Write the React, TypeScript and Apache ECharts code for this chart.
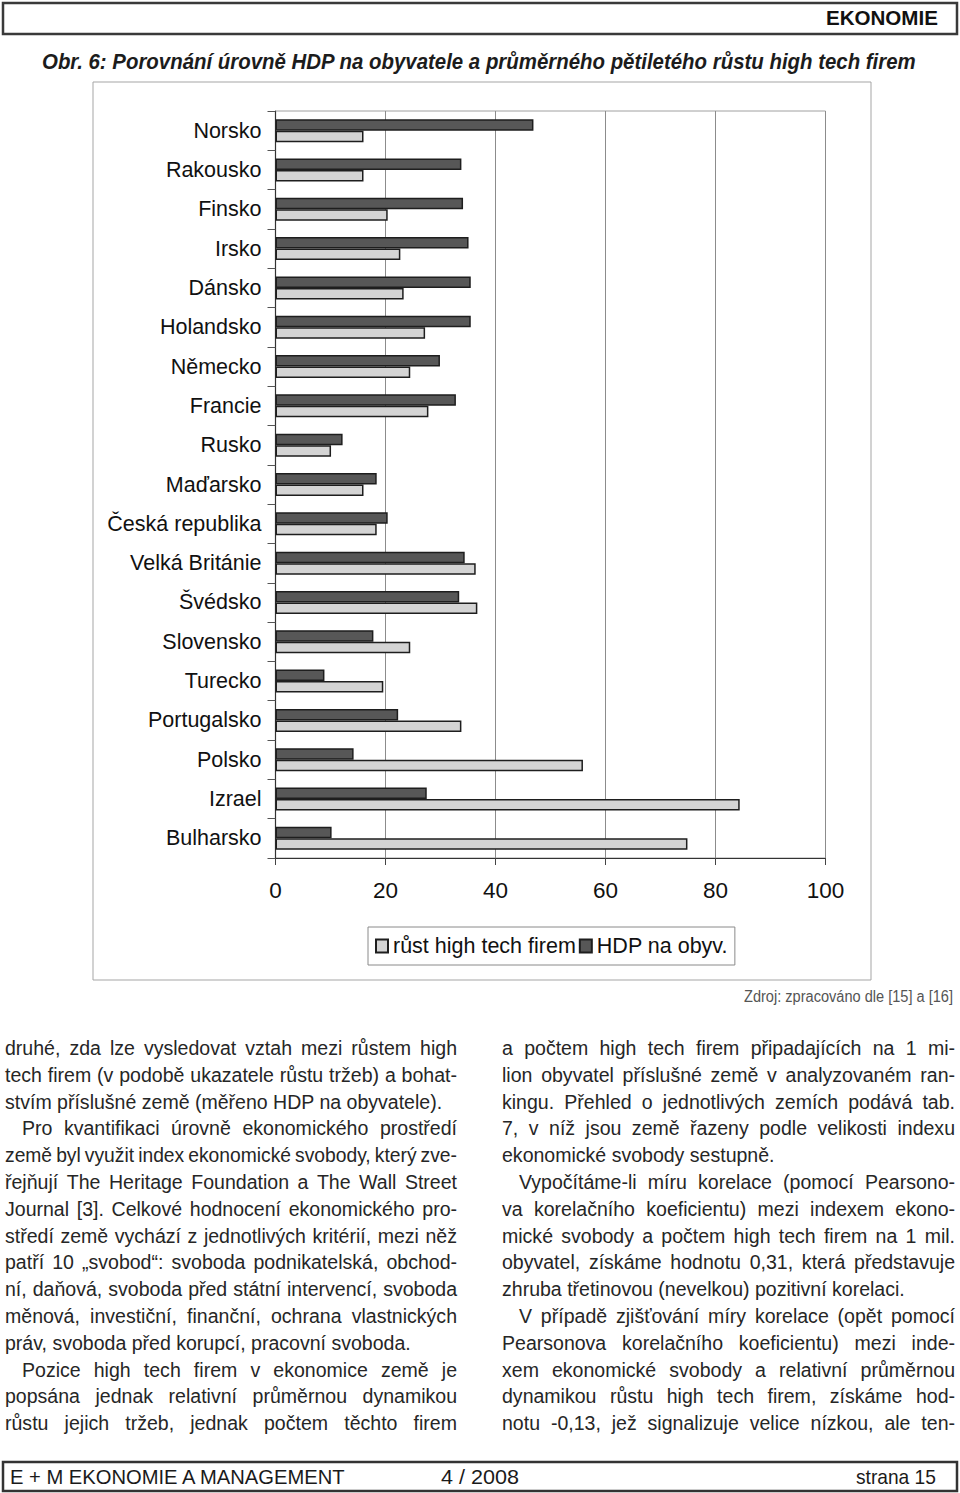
import React, { useEffect, useRef } from 'react';
import * as echarts from 'echarts';

const countries = [
  'Norsko', 'Rakousko', 'Finsko', 'Irsko', 'Dánsko', 'Holandsko', 'Německo', 'Francie', 'Rusko',
  'Maďarsko', 'Česká republika', 'Velká Británie', 'Švédsko', 'Slovensko', 'Turecko', 'Portugalsko',
  'Polsko', 'Izrael', 'Bulharsko',
];
const hdpValues = [46.9, 33.8, 34.1, 35.1, 35.5, 35.5, 29.9, 32.8, 12.2, 18.4, 20.4, 34.4, 33.4, 17.8, 8.9, 22.3, 14.2, 27.5, 10.2];
const growthValues = [16.0, 16.0, 20.4, 22.7, 23.3, 27.2, 24.5, 27.8, 10.1, 16.0, 18.4, 36.4, 36.7, 24.5, 19.6, 33.8, 55.9, 84.4, 74.9];
const seriesNames = ['růst high tech firem', 'HDP na obyv.'];
const axisMin = 0;
const axisMax = 100;
const axisStep = 20;

const headerLabel = 'EKONOMIE';
const titleText = 'Obr. 6: Porovnání úrovně HDP na obyvatele a průměrného pětiletého růstu high tech firem';
const sourceText = 'Zdroj: zpracováno dle [15] a [16]';
const footerLeft = 'E + M EKONOMIE A MANAGEMENT';
const footerMid = '4 / 2008';
const footerRight = 'strana 15';

type Line = { t: string; indent?: boolean; last?: boolean };
const leftColumn: Line[] = [
  { t: 'druhé, zda lze vysledovat vztah mezi růstem high' },
  { t: 'tech firem (v podobě ukazatele růstu tržeb) a bohat-' },
  { t: 'stvím příslušné země (měřeno HDP na obyvatele).', last: true },
  { t: 'Pro kvantifikaci úrovně ekonomického prostředí', indent: true },
  { t: 'země byl využit index ekonomické svobody, který zve-' },
  { t: 'řejňují The Heritage Foundation a The Wall Street' },
  { t: 'Journal [3]. Celkové hodnocení ekonomického pro-' },
  { t: 'středí země vychází z jednotlivých kritérií, mezi něž' },
  { t: 'patří 10 „svobod“: svoboda podnikatelská, obchod-' },
  { t: 'ní, daňová, svoboda před státní intervencí, svoboda' },
  { t: 'měnová, investiční, finanční, ochrana vlastnických' },
  { t: 'práv, svoboda před korupcí, pracovní svoboda.', last: true },
  { t: 'Pozice high tech firem v ekonomice země je', indent: true },
  { t: 'popsána jednak relativní průměrnou dynamikou' },
  { t: 'růstu jejich tržeb, jednak počtem těchto firem' },
];
const rightColumn: Line[] = [
  { t: 'a počtem high tech firem připadajících na 1 mi-' },
  { t: 'lion obyvatel příslušné země v analyzovaném ran-' },
  { t: 'kingu. Přehled o jednotlivých zemích podává tab.' },
  { t: '7, v níž jsou země řazeny podle velikosti indexu' },
  { t: 'ekonomické svobody sestupně.', last: true },
  { t: 'Vypočítáme-li míru korelace (pomocí Pearsono-', indent: true },
  { t: 'va korelačního koeficientu) mezi indexem ekono-' },
  { t: 'mické svobody a počtem high tech firem na 1 mil.' },
  { t: 'obyvatel, získáme hodnotu 0,31, která představuje' },
  { t: 'zhruba třetinovou (nevelkou) pozitivní korelaci.', last: true },
  { t: 'V případě zjišťování míry korelace (opět pomocí', indent: true },
  { t: 'Pearsonova korelačního koeficientu) mezi inde-' },
  { t: 'xem ekonomické svobody a relativní průměrnou' },
  { t: 'dynamikou růstu high tech firem, získáme hod-' },
  { t: 'notu -0,13, jež signalizuje velice nízkou, ale ten-' },
];

const FONT = '"Liberation Sans", Arial, Helvetica, sans-serif';

function makeMeasurer() {
  const ctx = document.createElement('canvas').getContext('2d') as CanvasRenderingContext2D;
  return (text: string, size: number, weight = 'normal', style = 'normal') => {
    ctx.font = `${style} ${weight} ${size}px ${FONT}`;
    return ctx.measureText(text).width;
  };
}

function textEl(text: string, x: number, y: number, opts: any = {}) {
  const align = opts.align || 'left';
  return {
    type: 'text',
    x,
    y,
    scaleX: opts.scaleX || 1,
    z: 100,
    style: {
      text,
      fill: opts.fill || '#1a1a1a',
      fontSize: opts.fontSize || 19,
      fontFamily: FONT,
      fontWeight: opts.fontWeight || 'normal',
      fontStyle: opts.fontStyle || 'normal',
      align,
      textAlign: align,
      verticalAlign: 'middle',
      textVerticalAlign: 'middle',
    },
  };
}

function fitText(measure: any, text: string, xLeft: number, y: number, width: number, size: number, opts: any = {}) {
  const w = measure(text, size, opts.fontWeight || 'normal', opts.fontStyle || 'normal');
  return textEl(text, xLeft, y, { ...opts, fontSize: size, scaleX: width / w });
}

function columnEls(measure: any, lines: Line[], x0: number, x1: number, y0: number, lh: number, size: number) {
  const els: any[] = [];
  const fill = '#262626';
  const minGap = measure(' ', size) * 0.75;
  lines.forEach((ln, i) => {
    const y = y0 + i * lh;
    const start = x0 + (ln.indent ? 17 : 0);
    if (ln.last) {
      els.push(textEl(ln.t, start, y, { fontSize: size, fill }));
      return;
    }
    const words = ln.t.split(' ');
    const widths = words.map((w) => measure(w, size));
    const total = widths.reduce((a, b) => a + b, 0);
    const avail = x1 - start;
    let gap = (avail - total) / (words.length - 1);
    let f = 1;
    if (gap < minGap) {
      gap = minGap;
      f = (avail - gap * (words.length - 1)) / total;
    }
    let x = start;
    words.forEach((w, k) => {
      els.push(textEl(w, x, y, { fontSize: size, fill, scaleX: f }));
      x += widths[k] * f + gap;
    });
  });
  return els;
}

export default function App() {
  const ref = useRef<HTMLDivElement>(null);
  useEffect(() => {
    if (!ref.current) return;
    const chart = echarts.init(ref.current, null, { renderer: 'svg' });
    const measure = makeMeasurer();

    // calibrate body font size to the paragraph-final line width
    const refW = measure('práv, svoboda před korupcí, pracovní svoboda.', 19);
    const bodySize = Math.max(16, Math.min(21, (19 * 406) / refW));

    const graphics: any[] = [
      { type: 'rect', shape: { x: 3, y: 3, width: 954, height: 31 }, style: { fill: 'none', stroke: '#3a3a3a', lineWidth: 2.5 } },
      fitText(measure, headerLabel, 826, 18.5, 112, 20, { fontWeight: 'bold', fill: '#111' }),
      fitText(measure, titleText, 42, 61, 875, 22, { fontWeight: 'bold', fontStyle: 'italic', fill: '#1c1c1c' }),
      { type: 'rect', shape: { x: 93, y: 82, width: 778, height: 898 }, style: { fill: 'none', stroke: '#a5a5a5', lineWidth: 1 } },
      fitText(measure, sourceText, 744, 996, 209, 16, { fill: '#555' }),
      { type: 'rect', shape: { x: 3, y: 1462, width: 954, height: 29 }, style: { fill: 'none', stroke: '#333', lineWidth: 2.5 } },
      fitText(measure, footerLeft, 10, 1477, 337, 20, { fill: '#1a1a1a' }),
      fitText(measure, footerMid, 441, 1477, 78, 20, { fill: '#1a1a1a' }),
      fitText(measure, footerRight, 856, 1477, 80, 20, { fill: '#1a1a1a' }),
      ...columnEls(measure, leftColumn, 5, 457, 1048, 26.8, bodySize),
      ...columnEls(measure, rightColumn, 502, 955, 1048, 26.8, bodySize),
    ];

    const barBorder = { borderColor: '#1e1e1e', borderWidth: 1.5 };

    chart.setOption({
      animation: false,
      backgroundColor: '#ffffff',
      textStyle: { fontFamily: FONT },
      grid: {
        left: 275.5, top: 111, width: 550, height: 747,
        show: true, borderColor: '#a0a0a0', borderWidth: 1, backgroundColor: 'transparent',
      },
      legend: {
        data: seriesNames,
        left: 368,
        top: 927,
        orient: 'horizontal',
        icon: 'rect',
        itemWidth: 12,
        itemHeight: 13,
        itemGap: 3,
        padding: [8, 7, 8, 7],
        borderColor: '#8a8a8a',
        borderWidth: 1,
        borderRadius: 0,
        textStyle: { fontSize: 21.5, color: '#111', fontFamily: FONT },
      },
      xAxis: {
        type: 'value',
        min: axisMin,
        max: axisMax,
        interval: axisStep,
        axisLine: { show: true, lineStyle: { color: '#333', width: 1.2 } },
        axisTick: { show: true, length: 7, lineStyle: { color: '#444' } },
        axisLabel: { fontSize: 22.5, color: '#111', margin: 21, fontFamily: FONT },
        splitLine: { show: true, lineStyle: { color: '#8c8c8c', width: 1 } },
      },
      yAxis: {
        type: 'category',
        data: countries,
        inverse: true,
        axisLine: { show: true, lineStyle: { color: '#333', width: 1.2 } },
        axisTick: { show: true, length: 8, lineStyle: { color: '#555' } },
        axisLabel: { fontSize: 21.5, color: '#111', margin: 14, fontFamily: FONT },
        splitLine: { show: false },
      },
      series: [
        {
          name: seriesNames[1],
          type: 'bar',
          data: hdpValues,
          barWidth: 11.5,
          barGap: '0%',
          itemStyle: { color: '#575757', ...barBorder },
        },
        {
          name: seriesNames[0],
          type: 'bar',
          data: growthValues,
          barWidth: 11.5,
          barGap: '0%',
          itemStyle: { color: '#d4d4d4', ...barBorder },
        },
      ],
      graphic: { elements: graphics },
    });
    return () => chart.dispose();
  }, []);

  return (
    <div
      ref={ref}
      style={{ position: 'absolute', left: 0, top: 0, width: 960, height: 1493, background: '#fff' }}
    />
  );
}
